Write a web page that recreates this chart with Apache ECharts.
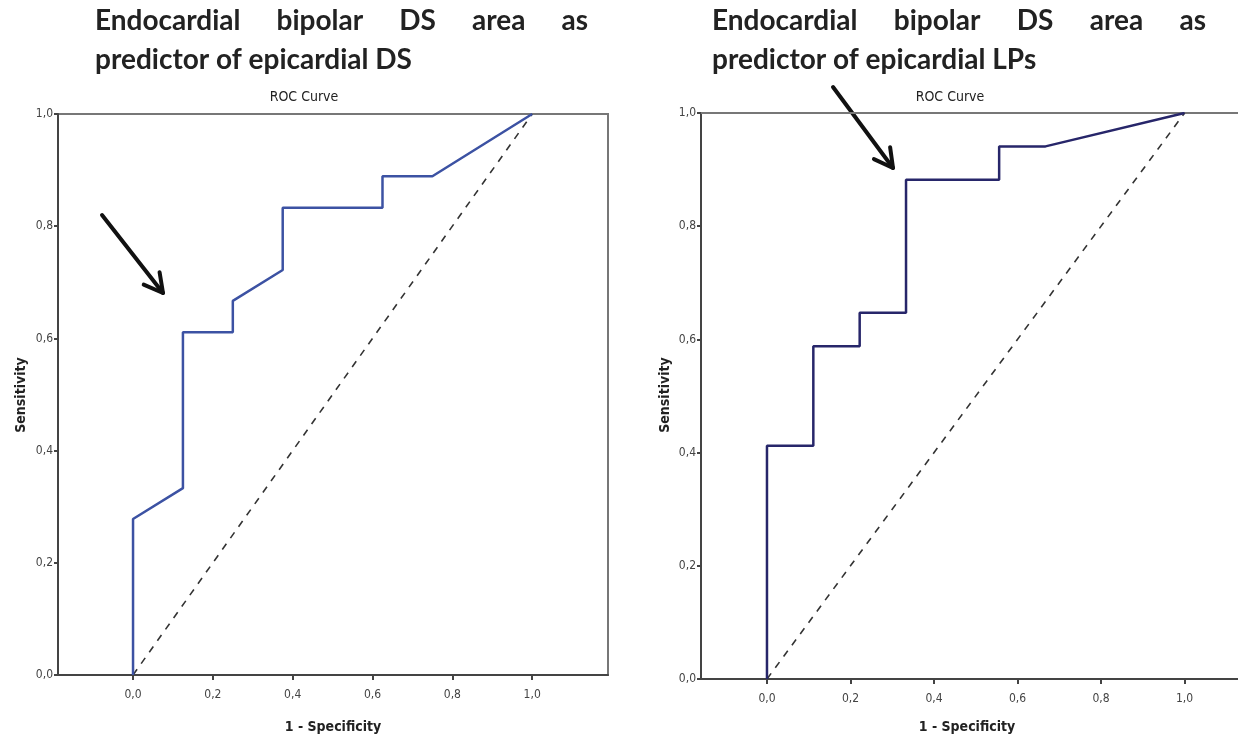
<!DOCTYPE html>
<html>
<head>
<meta charset="utf-8">
<script src="https://cdn.jsdelivr.net/npm/echarts@6/dist/echarts.min.js"></script>
<style>
html, body { margin: 0; padding: 0; background: #fff; }
#main { width: 1238px; height: 740px; }
</style>
</head>
<body>
<div id="main"></div>
<script>
// left panel: endocardial bipolar DS area -> epicardial DS
var dsFpr = [0, 0, 0.125, 0.125, 0.25, 0.25, 0.375, 0.375, 0.625, 0.625, 0.75, 1];
var dsTpr = [0, 0.278, 0.333, 0.611, 0.611, 0.667, 0.722, 0.833, 0.833, 0.889, 0.889, 1];
// right panel: endocardial bipolar DS area -> epicardial LPs
var lpFpr = [0, 0, 0.111, 0.111, 0.222, 0.222, 0.333, 0.333, 0.556, 0.556, 0.667, 1];
var lpTpr = [0, 0.412, 0.412, 0.588, 0.588, 0.647, 0.647, 0.882, 0.882, 0.941, 0.941, 1];
// chance line
var refX = [0, 1];
var refY = [0, 1];
var tickValues = [0, 0.2, 0.4, 0.6, 0.8, 1.0];
var headLine1 = ['Endocardial', 'bipolar', 'DS', 'area', 'as'];
var headLine2 = ['predictor of epicardial DS', 'predictor of epicardial LPs'];
var plotTitle = 'ROC Curve';
var xName = '1 - Specificity';
var yName = 'Sensitivity';

var smallFont = "'Liberation Sans Narrow', 'DejaVu Sans Condensed', 'Liberation Sans', sans-serif";
var headFont = 'bold 28px Lato, "Open Sans", sans-serif';

function zip(a, b) {
	var out = [];
	for (var i = 0; i < a.length; i++) out.push([a[i], b[i]]);
	return out;
}
function fmt(v) {
	return v.toFixed(1).replace('.', ',');
}

// spread words of a line between x0 and x1 (justified text)
var ctx = document.createElement('canvas').getContext('2d');
function justify(words, x0, x1, y) {
	ctx.font = headFont;
	var total = 0, w = [];
	for (var i = 0; i < words.length; i++) {
		w.push(ctx.measureText(words[i]).width);
		total += w[i];
	}
	var gap = (x1 - x0 - total) / (words.length - 1);
	var els = [], x = x0;
	for (var j = 0; j < words.length; j++) {
		els.push({ type: 'text', x: x, y: y, style: { text: words[j], font: headFont, fill: '#222', textVerticalAlign: 'middle' } });
		x += w[j] + gap;
	}
	return els;
}

function arrow(x0, y0, x1, y1) {
	var a = Math.atan2(y1 - y0, x1 - x0), len = 21, spread = 0.5;
	var p1 = [x1 - len * Math.cos(a - spread), y1 - len * Math.sin(a - spread)];
	var p2 = [x1 - len * Math.cos(a + spread), y1 - len * Math.sin(a + spread)];
	var st = { stroke: '#111', lineWidth: 4, lineCap: 'round', lineJoin: 'round', fill: null };
	return [
		{ type: 'polyline', shape: { points: [[x0, y0], [x1, y1]] }, style: st },
		{ type: 'polyline', shape: { points: [p1, [x1, y1], p2] }, style: st }
	];
}

function text(str, x, y, font, opt) {
	var el = { type: 'text', x: x, y: y, style: { text: str, font: font, fill: '#222', textAlign: 'center', textVerticalAlign: 'middle' } };
	if (opt) for (var k in opt) el[k] = opt[k];
	return el;
}

var axisColor = '#444';
function xAxisOf(i, min, max) {
	return {
		type: 'value', gridIndex: i, min: min, max: max,
		axisLine: { onZero: false, lineStyle: { color: axisColor, width: 2 } },
		axisTick: { customValues: tickValues, length: 5, lineStyle: { color: axisColor, width: 2 } },
		axisLabel: { customValues: tickValues, formatter: fmt, color: axisColor, fontSize: 12, margin: 14, fontFamily: smallFont },
		splitLine: { show: false }
	};
}
// top frame line only (right panel runs past the page edge)
function topAxisOf(i, min, max) {
	return {
		type: 'value', gridIndex: i, min: min, max: max, position: 'top',
		axisLine: { onZero: false, lineStyle: { color: '#777', width: 2 } },
		axisTick: { show: false }, axisLabel: { show: false }, splitLine: { show: false }
	};
}
function yAxisOf(i) {
	return {
		type: 'value', gridIndex: i, min: 0, max: 1, interval: 0.2,
		axisLine: { onZero: false, lineStyle: { color: axisColor, width: 2 } },
		axisTick: { length: 4, lineStyle: { color: axisColor, width: 2 } },
		axisLabel: { formatter: fmt, color: axisColor, fontSize: 12, margin: 5, fontFamily: smallFont },
		splitLine: { show: false }
	};
}
function rocSeries(i, xs, ys, color) {
	return {
		type: 'line', xAxisIndex: i, yAxisIndex: i, data: zip(xs, ys),
		symbol: 'none', z: 3,
		lineStyle: { color: color, width: 2.5 }
	};
}
function refSeries(i) {
	return {
		type: 'line', xAxisIndex: i, yAxisIndex: i, data: zip(refX, refY),
		symbol: 'none', z: 2,
		lineStyle: { color: '#333', width: 1.6, type: [7, 7] }
	};
}

var graphics = []
	.concat(justify(headLine1, 95, 588, 21))
	.concat(justify(headLine1, 712, 1206, 21))
	.concat([
		{ type: 'text', x: 95, y: 60, style: { text: headLine2[0], font: headFont, fill: '#222', textVerticalAlign: 'middle' } },
		{ type: 'text', x: 712, y: 60, style: { text: headLine2[1], font: headFont, fill: '#222', textVerticalAlign: 'middle' } },
		text(plotTitle, 304, 97, '14px ' + smallFont),
		text(plotTitle, 950, 97, '14px ' + smallFont),
		text(xName, 333, 727, 'bold 14px ' + smallFont),
		text(xName, 967, 727, 'bold 14px ' + smallFont),
		text(yName, 21, 395, 'bold 14px ' + smallFont, { rotation: Math.PI / 2 }),
		text(yName, 665, 395, 'bold 14px ' + smallFont, { rotation: Math.PI / 2 })
	])
	.concat(arrow(102, 215, 163, 293))
	.concat(arrow(833, 87, 893, 168));

var chart = echarts.init(document.getElementById('main'));
chart.setOption({
	backgroundColor: '#fff',
	animation: false,
	grid: [
		{ left: 58, top: 114, width: 550, height: 561, show: true, borderColor: '#777', borderWidth: 2 },
		{ left: 701, top: 113, right: 0, height: 566 }
	],
	xAxis: [xAxisOf(0, -0.188, 1.19), xAxisOf(1, -0.158, 1.128), topAxisOf(1, -0.158, 1.128)],
	yAxis: [yAxisOf(0), yAxisOf(1)],
	series: [
		refSeries(0),
		rocSeries(0, dsFpr, dsTpr, '#3c52a3'),
		refSeries(1),
		rocSeries(1, lpFpr, lpTpr, '#27266a')
	],
	graphic: graphics
});
</script>
</body>
</html>
